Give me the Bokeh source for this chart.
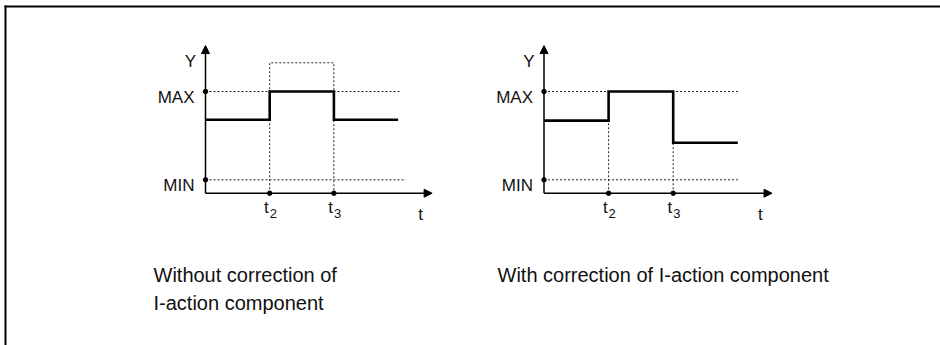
from bokeh.plotting import figure
from bokeh.models import Range1d, Arrow, NormalHead
from bokeh.embed import file_html
from bokeh.resources import INLINE
from bokeh.core.properties import value

# ---------------- data ----------------
Y_MIN = 0.0
Y_MAX = 10.0
t_points = [0, 1, 2, 3]            # start, t2, t3, end of trace
t_mark_pos = [1, 2]                # t2, t3
t_mark_sub = ["2", "3"]
left_levels = [6.8, 10.0, 6.8, 6.8]     # without correction of I-action component
right_levels = [6.7, 10.0, 4.2, 4.2]    # with correction of I-action component
unlimited_level = 13.25                 # unbounded controller output (dotted)
level_labels = ["MAX", "MIN"]
captions_left = ["Without correction of", "I-action component"]
caption_right = "With correction of I-action component"

# ---------------- layout ----------------
PAGE_OFF = 0          # page coordinate of canvas origin
FIG_W, FIG_H = 940, 345
Y_PX_MIN, Y_PX_PER_UNIT = 179.3, 8.83
PANELS = {"L": (205.0, 64.2), "R": (543.5, 64.6)}   # origin page-x, px per t unit
AXIS_Y = -1.52        # x-axis crossing in Y units
Y_TIP = 15.2
T_TIP = 3.53
FONT = value("Liberation Sans")
INK = "#111111"
DOT = "#222222"

p = figure(width=FIG_W, height=FIG_H, output_backend="svg", toolbar_location=None,
           x_range=Range1d(PAGE_OFF, PAGE_OFF + FIG_W),
           y_range=Range1d(PAGE_OFF + FIG_H, PAGE_OFF),
           x_axis_location=None, y_axis_location=None, min_border=0,
           outline_line_color=None, background_fill_color="white",
           border_fill_color="white")
p.grid.visible = False
p.styles = {"margin": "0px"}

y0 = (Y_PX_MIN - (PAGE_OFF + FIG_H)) / Y_PX_PER_UNIT
y1 = (Y_PX_MIN - PAGE_OFF) / Y_PX_PER_UNIT
p.extra_y_ranges = {"yv": Range1d(y0, y1)}
xr = {}
for k, (org, unit) in PANELS.items():
    xr["t" + k] = Range1d((PAGE_OFF - org) / unit, (PAGE_OFF + FIG_W - org) / unit)
p.extra_x_ranges = xr

# outer frame (only top and left edges fall inside the window)
p.segment(x0=[5, 4], y0=[FIG_H, 6], x1=[5, FIG_W], y1=[5, 6],
          line_color="black", line_width=2)


def panel(name, levels, guide_max_end, guide_min_end, left):
    kw = dict(x_range_name="t" + name, y_range_name="yv")
    dash = dict(line_color=DOT, line_width=1, line_dash="2 2")
    # guide lines at MAX / MIN
    p.segment(x0=[0, 0], y0=[Y_MAX, Y_MIN], x1=[guide_max_end, guide_min_end],
              y1=[Y_MAX, Y_MIN], **dash, **kw)
    if left:
        p.line(x=[t_mark_pos[0], t_mark_pos[0], t_mark_pos[1], t_mark_pos[1]],
               y=[AXIS_Y, unlimited_level, unlimited_level, AXIS_Y], **dash, **kw)
    else:
        p.segment(x0=t_mark_pos, x1=t_mark_pos, y0=[AXIS_Y, AXIS_Y],
                  y1=[levels[0], levels[2]], **dash, **kw)
    # step trace
    p.step(x=t_points, y=levels, mode="after", line_color="black", line_width=2.6,
           line_join="miter", **kw)
    # axes with arrows
    for xs, ys, xe, ye in [(0, AXIS_Y, T_TIP, AXIS_Y), (0, AXIS_Y, 0, Y_TIP)]:
        p.add_layout(Arrow(end=NormalHead(size=8, fill_color="black", line_color="black",
                                          line_width=1),
                           x_start=xs, y_start=ys, x_end=xe, y_end=ye,
                           line_color="black", line_width=1.5, **kw))
    # dots
    p.scatter(x=[0, 0], y=[Y_MAX, Y_MIN], size=4.5, color="black", **kw)
    p.scatter(x=t_mark_pos, y=[AXIS_Y] * 2, size=4.5, color="black", **kw)
    # labels
    p.text(x=[0, 0], y=[Y_MAX, Y_MIN], text=level_labels, x_offset=-11, y_offset=6,
           text_align="right", text_baseline="alphabetic", text_font=FONT,
           text_font_size="17px", text_color=INK, **kw)
    p.text(x=[0], y=[Y_TIP], text=["Y"], x_offset=-15, y_offset=16, text_align="center",
           text_baseline="alphabetic", text_font=FONT, text_font_size="17px",
           text_color=INK, **kw)
    p.text(x=t_mark_pos, y=[AXIS_Y] * 2, text=["t", "t"], x_offset=-1, y_offset=14,
           text_align="right", text_baseline="alphabetic", text_font=FONT,
           text_font_size="17px", text_color=INK, **kw)
    p.text(x=t_mark_pos, y=[AXIS_Y] * 2, text=t_mark_sub, x_offset=0, y_offset=20.5,
           text_align="left", text_baseline="alphabetic", text_font=FONT,
           text_font_size="13px", text_color=INK, **kw)
    p.text(x=[3.35], y=[AXIS_Y], text=["t"], y_offset=21, text_align="center",
           text_baseline="alphabetic", text_font=FONT, text_font_size="17px",
           text_color=INK, **kw)


panel("L", left_levels, 3.03, 3.12, True)
panel("R", right_levels, 3.0, 3.0, False)

# captions
p.text(x=[153, 153], y=[274, 302], text=captions_left, text_align="left",
       text_baseline="alphabetic", text_font=FONT, text_font_size="20px", text_color=INK)
p.text(x=[497], y=[274], text=[caption_right], text_align="left",
       text_baseline="alphabetic", text_font=FONT, text_font_size="20px", text_color=INK)

open("out.html", "w").write(file_html(p, INLINE))
